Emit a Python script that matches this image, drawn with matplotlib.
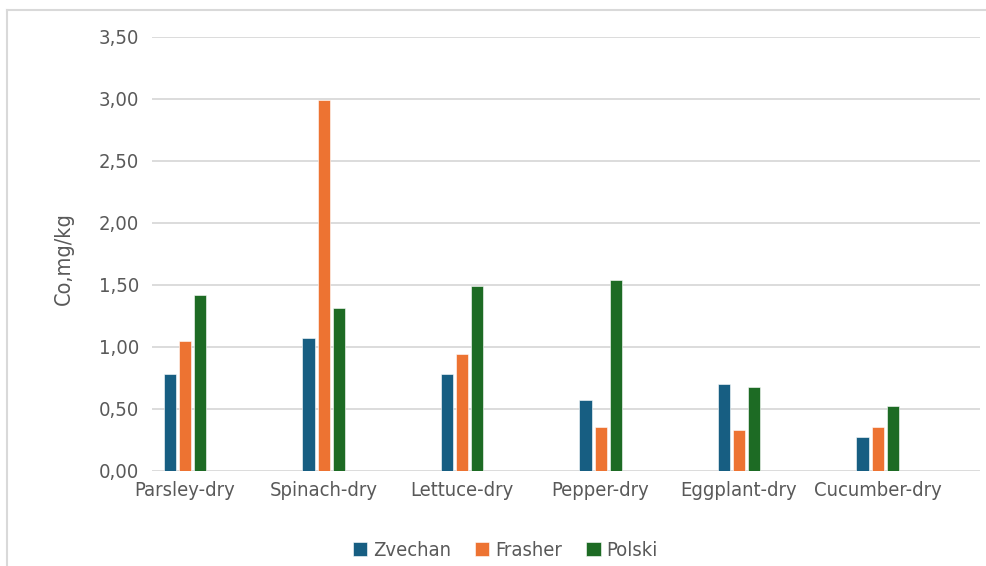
import numpy as np
from matplotlib import pyplot as plt
from matplotlib.lines import Line2D
from matplotlib.ticker import FuncFormatter

plt.rcParams['font.family'] = ['DejaVu Sans']
plt.rcParams['font.stretch'] = 'condensed'

categories = ['Parsley-dry', 'Spinach-dry', 'Lettuce-dry', 'Pepper-dry', 'Eggplant-dry', 'Cucumber-dry']
series = ['Zvechan', 'Frasher', 'Polski']
zvechan = [0.78, 1.07, 0.78, 0.57, 0.70, 0.27]
frasher = [1.05, 2.99, 0.94, 0.35, 0.33, 0.35]
polski = [1.42, 1.31, 1.49, 1.54, 0.68, 0.52]
colors = ['#175E82', '#ED7332', '#1D6B24']

text_col = '#595959'
grid_col = '#D9D9D9'

figure = plt.figure(figsize=(9.86, 5.66), dpi=100)
axes = figure.add_axes([0.154, 0.168, 0.840, 0.767])

x = np.arange(len(categories))
width = 0.087
step = 0.109
for i, (name, vals) in enumerate(zip(series, [zvechan, frasher, polski])):
    axes.bar(x + (i - 1) * step, vals, width, color=colors[i], label=name,
             edgecolor='white', linewidth=0.4, zorder=3)

axes.set_xlim(-0.24, 5.74)
axes.set_ylim(0, 3.5)
axes.set_yticks(np.arange(0, 3.51, 0.5))
axes.yaxis.set_major_formatter(FuncFormatter(lambda v, p: f'{v:.2f}'.replace('.', ',')))
axes.set_xticks(x)
axes.set_xticklabels(categories)
axes.grid(axis='y', color=grid_col, linewidth=1.3, zorder=0)
axes.tick_params(axis='both', length=0, labelsize=14.5, labelcolor=text_col)
axes.tick_params(axis='y', pad=9)
axes.tick_params(axis='x', pad=7)
for s in axes.spines.values():
    s.set_visible(False)

axes.set_ylabel('Co,mg/kg', fontsize=15.5, color=text_col, labelpad=0)
axes.yaxis.set_label_coords(-0.094, 0.49)

axes.legend(loc='center', bbox_to_anchor=(0.427, -0.184), ncol=3, frameon=False,
            fontsize=14.5, labelcolor=text_col, handlelength=0.7, handleheight=0.7,
            handletextpad=0.3, columnspacing=1.2)

figure.add_artist(Line2D([7 / 986, 7 / 986], [0, 1 - 10 / 566], color=grid_col, linewidth=1.5))
figure.add_artist(Line2D([7 / 986, 1], [1 - 10 / 566, 1 - 10 / 566], color=grid_col, linewidth=1.5))

figure.savefig('out.png', dpi=100)
